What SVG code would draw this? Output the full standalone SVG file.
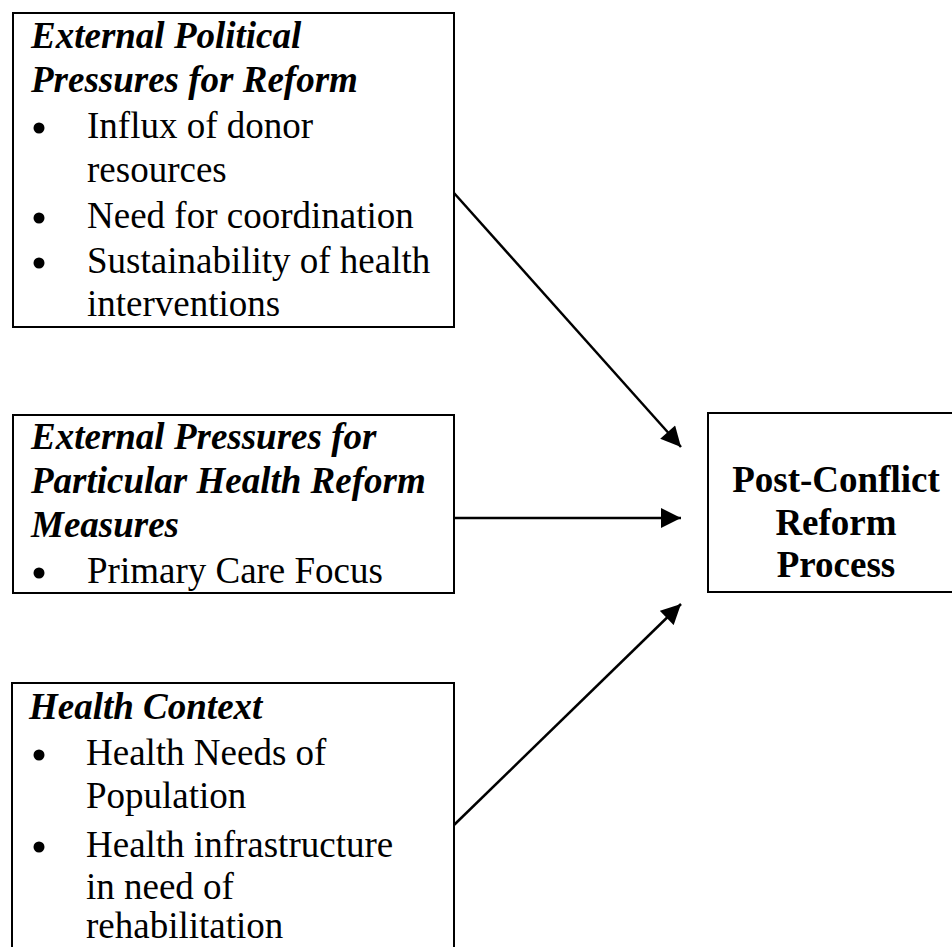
<svg xmlns="http://www.w3.org/2000/svg" width="952" height="947" viewBox="0 0 952 947">
<style>
.box{fill:#fff;stroke:#000;stroke-width:2}
.t{font-family:"Liberation Serif","Times New Roman",serif;font-size:37px;fill:#000}
.h{font-weight:bold;font-style:italic}
.b{font-weight:bold}
.c{stroke:#000;stroke-width:2.5;fill:none}
</style>
<defs>
<marker id="arr" viewBox="0 0 20 20" refX="20" refY="10" markerWidth="21" markerHeight="20" orient="auto" markerUnits="userSpaceOnUse">
<path d="M0,0 L20,10 L0,20 Z" fill="#000"/>
</marker>
</defs>
<rect width="952" height="947" fill="#fff"/>
<g id="node-political">
<rect class="box" x="13" y="13" width="441" height="314"/>
<text class="t h" x="31" y="48">External Political</text>
<text class="t h" x="31" y="92">Pressures for Reform</text>
<circle cx="39" cy="128" r="5.5"/>
<text class="t" x="87" y="138">Influx of donor</text>
<text class="t" x="87" y="182">resources</text>
<circle cx="39" cy="218" r="5.5"/>
<text class="t" x="87" y="228">Need for coordination</text>
<circle cx="39" cy="263" r="5.5"/>
<text class="t" x="87" y="273">Sustainability of health</text>
<text class="t" x="87" y="316">interventions</text>
</g>
<g id="node-measures">
<rect class="box" x="13" y="415" width="441" height="178"/>
<text class="t h" x="31" y="449">External Pressures for</text>
<text class="t h" x="31" y="493">Particular Health Reform</text>
<text class="t h" x="31" y="537">Measures</text>
<circle cx="39" cy="573" r="5.5"/>
<text class="t" x="87" y="583">Primary Care Focus</text>
</g>
<g id="node-context">
<rect class="box" x="12" y="683" width="442" height="290"/>
<text class="t h" x="29" y="719">Health Context</text>
<circle cx="39" cy="755" r="5.5"/>
<text class="t" x="86" y="765">Health Needs of</text>
<text class="t" x="86" y="808">Population</text>
<circle cx="39" cy="847" r="5.5"/>
<text class="t" x="86" y="857">Health infrastructure</text>
<text class="t" x="86" y="899">in need of</text>
<text class="t" x="86" y="938">rehabilitation</text>
</g>
<g id="node-process">
<rect class="box" x="708" y="413" width="260" height="179"/>
<text class="t b" x="836" y="492" text-anchor="middle">Post-Conflict</text>
<text class="t b" x="836" y="535" text-anchor="middle">Reform</text>
<text class="t b" x="836" y="577" text-anchor="middle">Process</text>
</g>
<g id="connectors">
<line class="c" x1="454" y1="193" x2="681" y2="447" marker-end="url(#arr)"/>
<line class="c" x1="454" y1="518" x2="681" y2="518" marker-end="url(#arr)"/>
<line class="c" x1="454" y1="825" x2="681" y2="604" marker-end="url(#arr)"/>
</g>
</svg>
